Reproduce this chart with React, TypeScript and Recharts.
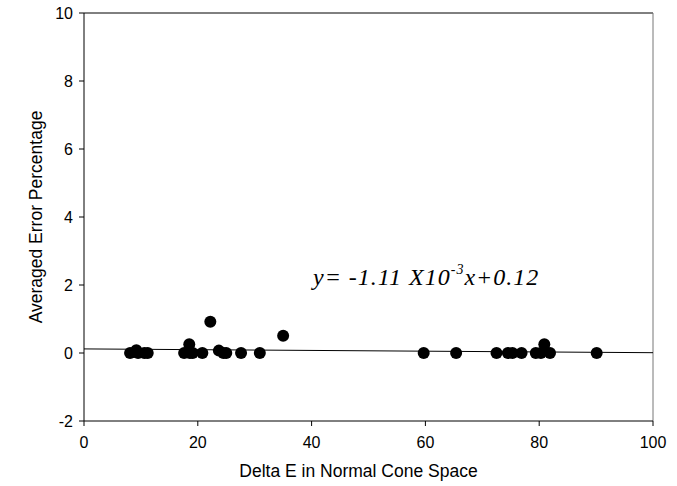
import React from "react";
import {
  ScatterChart,
  Scatter,
  XAxis,
  YAxis,
  ReferenceLine,
  Label,
} from "recharts";

// Delta E values (x) and averaged error percentage (y)
const deltaE = [
  8.1, 9.2, 9.5, 10.6, 11.2, 17.6, 18.5, 18.6, 19.1, 20.8, 22.2, 23.7, 24.5,
  25.0, 27.6, 30.9, 35.0, 59.7, 65.4, 72.5, 74.5, 75.3, 76.9, 79.4, 80.3, 80.9,
  81.9, 90.1,
];
const errorPct = [
  0, 0.08, 0, 0, 0, 0, 0.26, 0, 0, 0, 0.92, 0.07, 0, 0, 0, 0, 0.51, 0, 0, 0, 0,
  0, 0, 0, 0, 0.26, 0, 0,
];

const xTicks = [0, 20, 40, 60, 80, 100];
const yTicks = [-2, 0, 2, 4, 6, 8, 10];

// fit: y = -1.11e-3 x + 0.12
const slope = -1.11e-3;
const intercept = 0.12;
const fitX = [0, 100];

const points = deltaE.map((x, i) => ({ x, y: errorPct[i] }));
const fitSegment = fitX.map((x) => ({ x, y: slope * x + intercept }));

const font = "'Liberation Sans', Arial, sans-serif";

const Dot = (props: any) => {
  const { cx, cy } = props;
  return <circle cx={cx} cy={cy} r={6} fill="#000" />;
};

const App: React.FC = () => {
  return (
    <div
      style={{
        position: "absolute",
        left: 0,
        top: 0,
        width: 677,
        height: 486,
        background: "#fff",
      }}
    >
      <ScatterChart
        width={677}
        height={486}
        margin={{ top: 13, right: 24, bottom: 35, left: 0 }}
      >
        <XAxis
          type="number"
          dataKey="x"
          domain={[0, 100]}
          ticks={xTicks}
          allowDataOverflow
          stroke="#000"
          tickSize={5}
          tickMargin={11}
          tick={{ fill: "#000", fontSize: 16, fontFamily: font }}
        >
          <Label
            value="Delta E in Normal Cone Space"
            position="bottom"
            offset={14}
            dx={-10}
            style={{ fill: "#000", fontSize: 17.5, fontFamily: font }}
          />
        </XAxis>
        <YAxis
          type="number"
          dataKey="y"
          domain={[-2, 10]}
          ticks={yTicks}
          allowDataOverflow
          width={84}
          stroke="#000"
          tickSize={5}
          tickMargin={6}
          tick={{ fill: "#000", fontSize: 16, fontFamily: font }}
        >
          <Label
            value="Averaged Error Percentage"
            angle={-90}
            position="insideLeft"
            offset={27}
            dx={9}
            style={{
              fill: "#000",
              fontSize: 17.5,
              fontFamily: font,
              textAnchor: "middle",
            }}
          />
        </YAxis>
        <ReferenceLine y={10} stroke="#000" strokeWidth={1} />
        <ReferenceLine x={100} stroke="#777" strokeWidth={1} />
        <ReferenceLine
          segment={fitSegment}
          stroke="#000"
          strokeWidth={1}
          ifOverflow="visible"
        />
        <Scatter data={points} shape={<Dot />} isAnimationActive={false} />
      </ScatterChart>
      <div
        style={{
          position: "absolute",
          left: 313,
          top: 262,
          fontFamily: "'Liberation Serif', 'Times New Roman', serif",
          fontStyle: "italic",
          fontSize: 24,
          letterSpacing: 1,
          color: "#000",
          whiteSpace: "nowrap",
          lineHeight: "30px",
        }}
      >
        y= -1.11 X10
        <sup style={{ fontSize: 14, verticalAlign: "11px", lineHeight: 0 }}>
          -3
        </sup>
        x+0.12
      </div>
    </div>
  );
};

export default App;
